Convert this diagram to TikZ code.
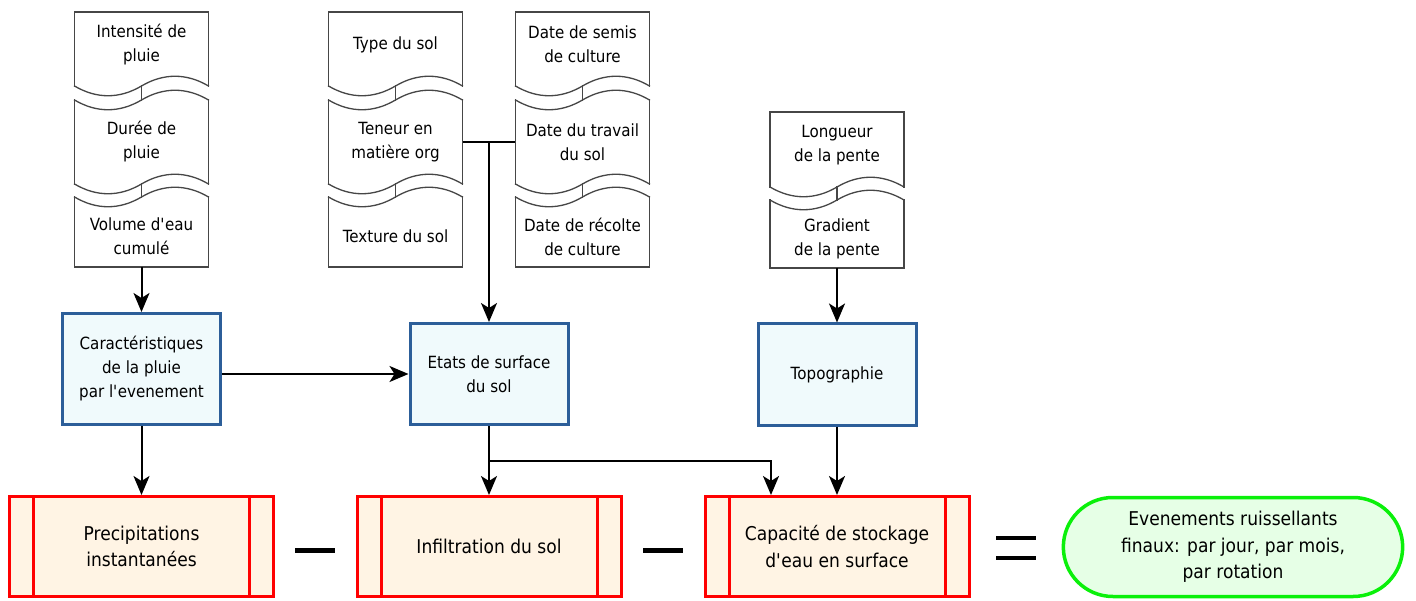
\documentclass[tikz,border=0pt]{standalone}
\usepackage{fontspec}
\setmainfont[FakeStretch=0.9]{DejaVu Sans}
\usepackage{xcolor}
\usepackage{tikz}
\usetikzlibrary{shapes,arrows,arrows.meta,positioning,calc}
\definecolor{bord_bleu}{RGB}{44,94,153}
\definecolor{fond_bleu}{RGB}{240,250,252}
\definecolor{fond_rouge}{RGB}{255,244,228}
\definecolor{bord_vert}{RGB}{10,240,10}
\definecolor{fond_vert}{RGB}{230,255,230}
\definecolor{gris_bord}{RGB}{70,70,70}
\newcommand{\petit}{\fontsize{16.8}{24}\selectfont}
\newcommand{\grand}{\fontsize{19}{26.5}\selectfont}
\newcommand{\apos}{\textquotesingle}

% feuille : nom, x centre, y haut, y bas, vague en haut, vague en bas, texte
\newcommand{\feuille}[7]{%
  \pgfmathsetmacro{\yc}{(#3+#4)/2+4.5*#5-4.5*#6}
  \node[feuille] (#1) at (#2,\yc) {#7};
  \coordinate (#1-haut) at (#2,#3);
  \coordinate (#1-bas) at (#2,#4);
  \ifnum#5=1
    \draw[trait] (#2-67,#3) .. controls +(22,13) and +(-22,13) .. (#2,#3) .. controls +(22,-13) and +(-22,-13) .. (#2+67,#3);
  \else
    \draw[trait] (#2-67,#3) -- (#2+67,#3);
  \fi
  \ifnum#6=1
    \draw[trait] (#2-67,#4) .. controls +(22,13) and +(-22,13) .. (#2,#4) .. controls +(22,-13) and +(-22,-13) .. (#2+67,#4);
  \else
    \draw[trait] (#2-67,#4) -- (#2+67,#4);
  \fi
  \draw[trait] (#2-67,#3) -- (#2-67,#4);
  \draw[trait] (#2+67,#3) -- (#2+67,#4);
}

\begin{document}
\begin{tikzpicture}[x=1pt, y=-1pt,
    feuille/.style={minimum width=134pt, inner sep=0pt, align=center, font=\petit},
    trait/.style={draw=gris_bord, line width=1.3pt, line cap=rect},
    etape/.style={draw=bord_bleu, fill=fond_bleu, line width=3pt, minimum width=158pt, align=center, font=\petit},
    processus/.style={draw=red, fill=fond_rouge, line width=3pt, minimum width=264pt, minimum height=100pt, align=center, font=\grand,
      path picture={\draw[red, line width=3pt]
        ([xshift=24pt]path picture bounding box.north west) -- ([xshift=24pt]path picture bounding box.south west)
        ([xshift=-24pt]path picture bounding box.north east) -- ([xshift=-24pt]path picture bounding box.south east);}},
    fin/.style={rounded rectangle, draw=bord_vert, fill=fond_vert, line width=3.5pt, minimum width=346pt, minimum height=99pt, align=center, font=\grand},
    fleche/.style={-{Stealth[length=19pt,width=16pt,inset=5pt]}, line width=2pt},
    lien/.style={line width=2pt},
    signe/.style={line width=4.5pt}]
    \useasboundingbox (0,0) rectangle (1416,601);

    % donnees d'entree
    \feuille{intensite}{141.5}{12}{86}{0}{1}{Intensité de\\pluie}
    \feuille{duree}{141.5}{100}{184}{1}{1}{Durée de\\pluie}
    \feuille{volume}{141.5}{197}{267}{1}{0}{Volume d\apos eau\\cumulé}
    \feuille{type}{395.5}{12}{86}{0}{1}{Type du sol}
    \feuille{teneur}{395.5}{100}{184}{1}{1}{Teneur en\\matière org}
    \feuille{texture}{395.5}{197}{267}{1}{0}{Texture du sol}
    \feuille{semis}{582.5}{12}{86}{0}{1}{Date de semis\\de culture}
    \feuille{travail}{582.5}{100}{184}{1}{1}{Date du travail\\du sol}
    \feuille{recolte}{582.5}{197}{267}{1}{0}{Date de récolte\\de culture}
    \feuille{longueur}{837}{112}{187}{0}{1}{Longueur\\de la pente}
    \feuille{gradient}{837}{200}{268}{1}{0}{Gradient\\de la pente}

    \draw[trait] (intensite-bas) -- (duree-haut);
    \draw[trait] (duree-bas) -- (volume-haut);
    \draw[trait] (type-bas) -- (teneur-haut);
    \draw[trait] (teneur-bas) -- (texture-haut);
    \draw[trait] (semis-bas) -- (travail-haut);
    \draw[trait] (travail-bas) -- (recolte-haut);
    \draw[trait] (longueur-bas) -- (gradient-haut);

    % etapes
    \node[etape, minimum height=111pt] (carac) at (141.5,369) {Caractéristiques\\de la pluie\\par l\apos evenement};
    \node[etape, minimum height=101pt] (etats) at (489,374) {Etats de surface\\du sol};
    \node[etape, minimum height=101pt] (topo) at (837,374.5) {Topographie};

    \node[processus] (precip) at (141.5,546.5) {Precipitations\\instantanées};
    \node[processus] (infiltration) at (489,546.5) {Infiltration du sol};
    \node[processus] (capacite) at (837,546.5) {Capacité de stockage\\d\apos eau en surface};
    \node[fin] (evenements) at (1233,547) {Evenements ruissellants\\finaux: par jour, par mois,\\par rotation};

    % liaisons
    \draw[fleche] (volume-bas) -- (carac);
    \draw[fleche] (carac.east |- etats) -- (etats);
    \draw[fleche] (carac) -- (precip);
    \draw[lien] (teneur.east) -- (travail.west);
    \coordinate (jonction) at ($(teneur.east)!0.5!(travail.west)$);
    \draw[fleche] (jonction) -- (jonction |- etats.north);
    \draw[fleche] (gradient-bas) -- (topo);
    \draw[fleche] (etats) -- (infiltration);
    \draw[fleche] (topo) -- (capacite);
    \draw[fleche] (etats.south) -- ++(0,35) -| ([xshift=-66pt]capacite.north);

    % signes
    \coordinate (moins1) at ($(precip.east)!0.5!(infiltration.west)$);
    \coordinate (moins2) at ($(infiltration.east)!0.5!(capacite.west)$);
    \coordinate (egal) at ($(capacite.east)!0.5!(evenements.west)$);
    \draw[signe] ([xshift=-20pt,yshift=-4pt]moins1) -- ([xshift=20pt,yshift=-4pt]moins1);
    \draw[signe] ([xshift=-20pt,yshift=-4pt]moins2) -- ([xshift=20pt,yshift=-4pt]moins2);
    \draw[signe] ([xshift=-20pt,yshift=9pt]egal) -- ([xshift=20pt,yshift=9pt]egal);
    \draw[signe] ([xshift=-20pt,yshift=-11pt]egal) -- ([xshift=20pt,yshift=-11pt]egal);
\end{tikzpicture}
\end{document}
